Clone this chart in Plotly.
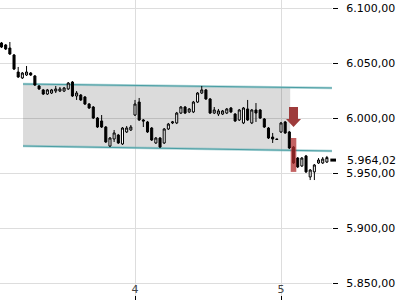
import plotly.graph_objects as go

# ---- data ----
bar_index = list(range(-32, 47))          # 35 bars per day, index 0 = first bar of day 4
bars_per_day = 35
day_ref = 4

opens = [6068.2, 6066.4, 6063.6, 6057.3, 6041.8, 6036.4, 6039.1, 6040.9, 6038.2, 6029.1,
         6025.5, 6021.8, 6022.7, 6024.5, 6024.5, 6024.5, 6026.4, 6032.7, 6020.0, 6020.9,
         6019.1, 6012.7, 6010.0, 6000.0, 5997.3, 5991.8, 5974.5, 5980.9, 5984.5, 5976.4,
         5987.3, 5989.1,
         6002.7, 6014.5, 5998.2, 5996.4, 5990.9, 5977.3, 5981.8, 5977.3, 5990.0, 5995.5,
         5995.5, 6004.5, 6010.0, 6005.5, 6005.5, 6014.5, 6022.7, 6025.5, 6017.3, 6004.5,
         6003.6, 6003.6, 6004.5, 6009.1, 6003.6, 5998.2, 5995.5, 6008.2, 5995.5, 6007.3,
         6007.3, 5999.1, 5990.9, 5982.7, 5980.9,
         5987.3, 5996.4, 5987.3, 5973.6, 5963.6, 5956.4, 5965.5, 5946.4, 5951.0, 5959.1,
         5959.1, 5960.0]
highs = [6069.1, 6067.3, 6069.1, 6058.2, 6046.4, 6041.8, 6047.3, 6041.8, 6039.1, 6030.0,
         6026.4, 6026.4, 6026.4, 6029.1, 6028.2, 6028.2, 6032.7, 6033.6, 6024.5, 6021.8,
         6020.0, 6013.6, 6010.9, 6000.9, 6002.7, 5992.7, 5982.7, 5989.1, 5985.5, 5991.8,
         5992.7, 5993.6,
         6016.4, 6018.2, 5999.1, 5997.3, 5991.8, 5982.7, 5982.7, 5990.9, 5995.5, 5997.3,
         6005.5, 6010.9, 6010.9, 6009.1, 6015.5, 6023.6, 6029.1, 6026.4, 6018.2, 6010.0,
         6008.2, 6007.3, 6009.1, 6010.0, 6004.5, 6008.2, 6010.0, 6016.4, 6008.2, 6013.6,
         6008.2, 6000.0, 5991.8, 5986.4, 5981.2,
         5996.4, 5997.3, 5988.2, 5974.5, 5964.5, 5964.5, 5966.4, 5953.6, 5958.2, 5963.6,
         5964.5, 5965.5]
lows = [6063.6, 6061.8, 6057.3, 6043.6, 6036.4, 6035.5, 6038.2, 6038.2, 6029.1, 6025.5,
        6020.9, 6020.9, 6021.8, 6022.7, 6023.6, 6023.6, 6025.5, 6019.1, 6016.4, 6015.5,
        6011.8, 6008.2, 5999.1, 5990.9, 5990.9, 5977.3, 5973.6, 5978.2, 5976.4, 5975.5,
        5986.4, 5988.2,
        6001.8, 5997.3, 5991.8, 5986.4, 5979.1, 5976.4, 5972.7, 5976.4, 5989.1, 5994.5,
        5994.5, 6003.6, 6003.6, 6004.5, 6004.5, 6013.6, 6021.8, 6016.4, 6003.6, 6003.6,
        6001.8, 6002.7, 6003.6, 6004.5, 5996.4, 5997.3, 5994.5, 5997.3, 5994.5, 5996.4,
        5999.1, 5990.9, 5980.9, 5977.3, 5980.0,
        5986.4, 5985.5, 5971.8, 5958.2, 5954.5, 5955.5, 5950.0, 5943.6, 5943.6, 5958.2,
        5958.2, 5959.1]
closes = [6064.5, 6062.7, 6058.2, 6044.5, 6037.3, 6040.9, 6041.8, 6039.1, 6030.0, 6026.4,
          6021.8, 6025.5, 6025.5, 6026.4, 6026.4, 6027.3, 6031.8, 6020.0, 6022.7, 6016.4,
          6012.7, 6009.1, 6000.0, 5991.8, 5991.8, 5978.2, 5981.8, 5986.4, 5977.3, 5990.9,
          5990.9, 5991.8,
          6012.7, 5998.2, 5997.3, 5987.3, 5980.0, 5981.8, 5973.6, 5990.0, 5994.5, 5996.4,
          6004.5, 6010.0, 6004.5, 6008.2, 6014.5, 6022.7, 6025.5, 6017.3, 6004.5, 6007.3,
          6006.4, 6006.4, 6008.2, 6005.5, 5997.3, 6007.3, 6009.1, 5998.2, 6007.3, 6004.5,
          6000.0, 5991.8, 5981.8, 5980.9, 5980.5,
          5995.5, 5986.4, 5972.7, 5959.1, 5955.5, 5963.6, 5951.0, 5952.7, 5957.3, 5961.8,
          5962.7, 5964.02]

# trend channel (start / end in days, prices)
channel_x = [3.233, 5.349]
channel_top = [6030.9, 6027.3]
channel_bot = [5974.5, 5970.0]
channel_fill_end = 5.063

# signal (sell arrow above breakout bar)
signal_bar = 38
signal_tip_price = 5991.8
signal_range = [5951.0, 5981.8]

last_price = 5964.02
y_ticks = [5850, 5900, 5950, 6000, 6050, 6100]
x_ticks = [4, 5]
x_labels = ["4", "5"]

# ---- figure ----
xs = [day_ref + k / bars_per_day for k in bar_index]

def lerp(x, xa, ya):
    return ya[0] + (ya[1] - ya[0]) * (x - xa[0]) / (xa[1] - xa[0])

ppd = 146.0          # pixels per day
ppu = 1.1            # pixels per price unit
def dx(px): return px / ppd
def dy(px): return px / ppu

fig = go.Figure()

# gray channel area (above grid, below traces)
top_end = lerp(channel_fill_end, channel_x, channel_top)
bot_end = lerp(channel_fill_end, channel_x, channel_bot)
fig.add_shape(type="path", xref="x", yref="y", layer="between",
              path=(f"M {channel_x[0]},{channel_top[0]} L {channel_fill_end},{top_end} "
                    f"L {channel_fill_end},{bot_end} L {channel_x[0]},{channel_bot[0]} Z"),
              fillcolor="rgba(0,0,0,0.14)", line=dict(width=0))
for ys in (channel_top, channel_bot):
    fig.add_shape(type="line", xref="x", yref="y", layer="between",
                  x0=channel_x[0], x1=channel_x[1], y0=ys[0], y1=ys[1],
                  line=dict(color="rgba(120,185,190,0.6)", width=2.5))
    fig.add_shape(type="line", xref="x", yref="y", layer="between",
                  x0=channel_x[0], x1=channel_x[1], y0=ys[0], y1=ys[1],
                  line=dict(color="#4a9ea3", width=1))

fig.add_trace(go.Candlestick(
    x=xs, open=opens, high=highs, low=lows, close=closes,
    increasing=dict(fillcolor="white", line=dict(color="black", width=1)),
    decreasing=dict(fillcolor="black", line=dict(color="black", width=1)),
    showlegend=False, hoverinfo="skip"))

# signal arrow
sx = day_ref + signal_bar / bars_per_day
tip = signal_tip_price
arrow_x = [sx - dx(4.5), sx + dx(4.5), sx + dx(4.5), sx + dx(7.5), sx, sx - dx(7.5), sx - dx(4.5), sx - dx(4.5)]
arrow_y = [tip + dy(20), tip + dy(20), tip + dy(8), tip + dy(8), tip, tip + dy(8), tip + dy(8), tip + dy(20)]
fig.add_trace(go.Scatter(x=arrow_x, y=arrow_y, fill="toself", fillcolor="#9e3b3b",
                         line=dict(width=0), mode="lines", hoverinfo="skip", showlegend=False))

fig.add_shape(type="rect", xref="x", yref="y",
              x0=sx - dx(2.8), x1=sx + dx(2.8), y0=signal_range[0], y1=signal_range[1],
              fillcolor="rgba(175,45,45,0.75)", line=dict(width=0), layer="above")

# last price label + marker
fig.add_annotation(x=1, xref="paper", y=last_price, yref="y", text="5.964,02",
                   showarrow=False, xanchor="left", xshift=13, yshift=-3,
                   font=dict(family="DejaVu Sans", size=11, color="black"))
fig.add_shape(type="line", xref="paper", yref="y", x0=0.995, x1=1.012,
              y0=last_price - dy(2.5), y1=last_price - dy(2.5),
              line=dict(color="black", width=3))

fig.update_layout(
    width=400, height=300,
    margin=dict(l=0, r=68, t=0, b=0),
    paper_bgcolor="white", plot_bgcolor="white",
    separators=",.",
    font=dict(family="DejaVu Sans", size=11, color="black"),
    xaxis=dict(range=[4 - 135 / 146, 4 + 197 / 146], tickvals=x_ticks, ticktext=x_labels,
               showgrid=True, gridcolor="#dddddd", gridwidth=1, zeroline=False,
               ticks="inside", ticklen=4, tickcolor="black", ticklabelposition="inside",
               rangeslider=dict(visible=False), showline=False, fixedrange=True),
    yaxis=dict(range=[6100 - 292 / 1.1, 6100 + 8 / 1.1], side="right", tickvals=y_ticks,
               tickformat=",.2f", showgrid=True, gridcolor="#dddddd", gridwidth=1,
               zeroline=False, ticks="outside", ticklen=5, tickcolor="black",
               ticklabelstandoff=6, showline=False, fixedrange=True),
    showlegend=False,
)

fig.write_html("out.html")
